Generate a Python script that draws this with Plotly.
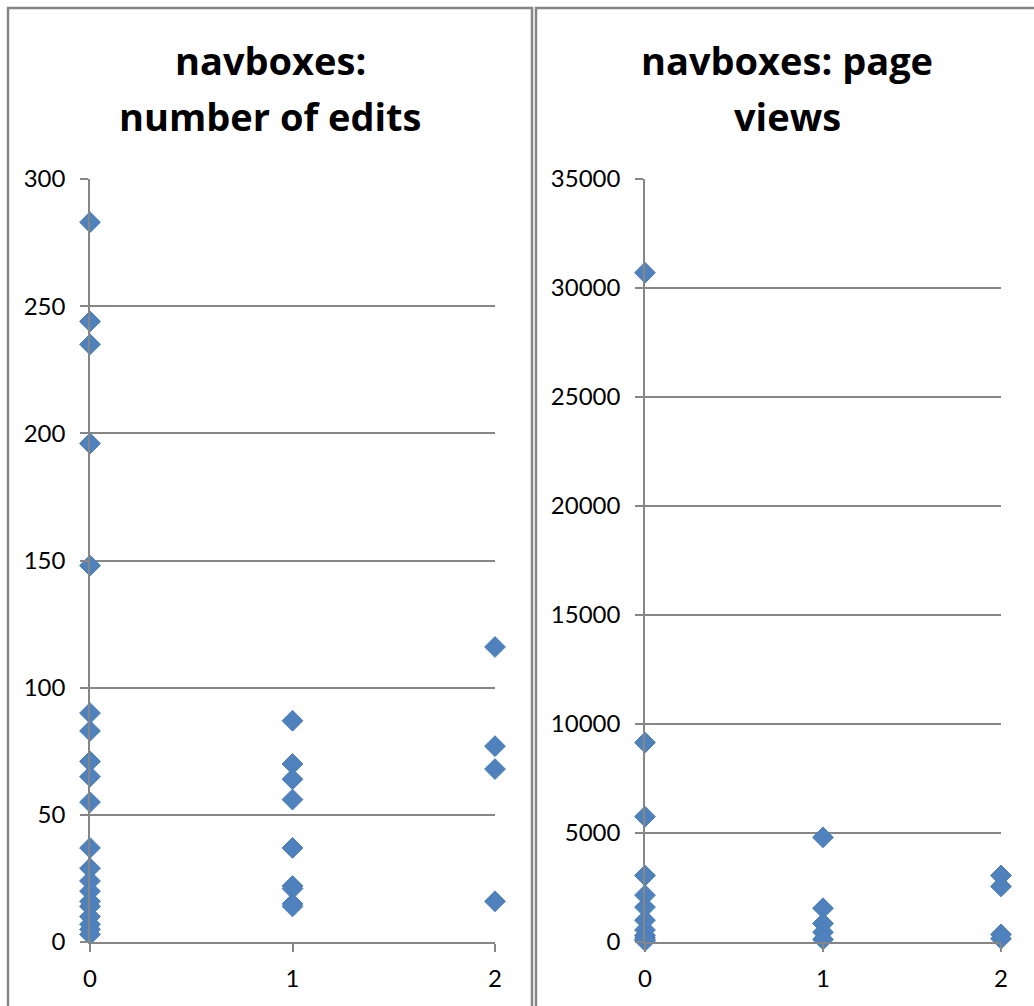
import plotly.graph_objects as go

# Number of edits per navbox, grouped by category 0/1/2
edits_cat = [0] * 20 + [1] * 9 + [2] * 4
edits_val = [283, 244, 235, 196, 148, 90, 83, 71, 65, 55, 37, 29, 24, 20, 16, 14, 10, 7, 5, 3,
             87, 70, 64, 56, 37, 22, 21, 15, 14,
             116, 77, 68, 16]

# Page views per navbox, grouped by category 0/1/2
views_cat = [0] * 12 + [1] * 5 + [2] * 4
views_val = [30700, 9150, 5750, 3050, 2150, 1600, 1000, 550, 300, 200, 100, 50,
             4800, 1550, 850, 450, 120,
             3050, 2550, 350, 150]

edit_ticks = [0, 50, 100, 150, 200, 250, 300]
view_ticks = [0, 5000, 10000, 15000, 20000, 25000, 30000, 35000]

W, H = 1034, 1006
BLUE = "#4F81BD"
GRID = "#868686"
FONT = "Lato, 'Open Sans', sans-serif"
TITLE_FONT = "'Open Sans', Lato, sans-serif"


def px(x):
    return x / W


def py(y):
    return 1 - y / H


marker = dict(symbol="diamond", size=16, color=BLUE, line=dict(color="#4A7EBB", width=1))

fig = go.Figure()
fig.add_trace(go.Scatter(x=edits_cat, y=edits_val, mode="markers", marker=marker,
                         cliponaxis=False, xaxis="x", yaxis="y", showlegend=False))
fig.add_trace(go.Scatter(x=views_cat, y=views_val, mode="markers", marker=marker,
                         cliponaxis=False, xaxis="x2", yaxis="y2", showlegend=False))

xcommon = dict(range=[0, 2], tickvals=[0, 1, 2], showgrid=False, zeroline=False,
               showline=True, linecolor=GRID, linewidth=1.5, ticks="outside",
               ticklen=8, tickcolor=GRID, tickwidth=1.5, automargin=False,
               tickfont=dict(family=FONT, size=24, color="black"),
               ticklabelstandoff=6, fixedrange=True)
ycommon = dict(showgrid=True, gridcolor=GRID, gridwidth=1.5, zeroline=False,
               showline=True, linecolor=GRID, linewidth=1.5, ticks="outside",
               ticklen=8, tickcolor=GRID, tickwidth=1.5, automargin=False,
               tickformat="d",
               tickfont=dict(family=FONT, size=24, color="black"),
               ticklabelstandoff=10, fixedrange=True)

ydom = [py(942), py(179)]


def title_line(text, x, y):
    return dict(text="<b>%s</b>" % text, x=px(x), y=py(y), xref="paper", yref="paper",
                xanchor="center", yanchor="middle", showarrow=False,
                font=dict(family=TITLE_FONT, size=38, color="black"))


fig.update_layout(
    width=W, height=H,
    margin=dict(l=0, r=0, t=0, b=0, autoexpand=False),
    paper_bgcolor="white", plot_bgcolor="white",
    xaxis=dict(xcommon, domain=[px(90), px(495)], anchor="y"),
    yaxis=dict(ycommon, domain=ydom, range=[0, 300], tickvals=edit_ticks, anchor="x"),
    xaxis2=dict(xcommon, domain=[px(645), px(1001)], anchor="y2"),
    yaxis2=dict(ycommon, domain=ydom, range=[0, 35000], tickvals=view_ticks, anchor="x2"),
    shapes=[
        dict(type="rect", xref="paper", yref="paper", x0=px(8), x1=px(532), y0=-0.05, y1=py(8),
             line=dict(color=GRID, width=2.5), layer="below"),
        dict(type="rect", xref="paper", yref="paper", x0=px(536), x1=1.05, y0=-0.05, y1=py(8),
             line=dict(color=GRID, width=2.5), layer="below"),
    ],
    annotations=[
        title_line("navboxes:", 270, 60),
        title_line("number of edits", 270, 116),
        title_line("navboxes: page", 787, 60),
        title_line("views", 787, 116),
    ],
)

fig.write_html("out.html")
